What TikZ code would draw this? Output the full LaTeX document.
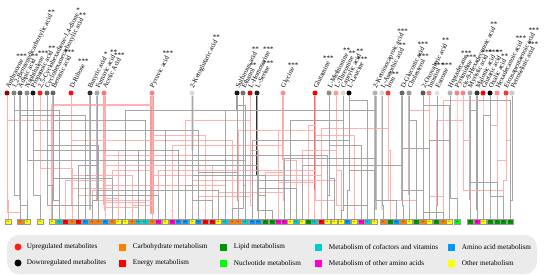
\documentclass[tikz,border=0pt]{standalone}
\usepackage{fontspec}
\setmainfont{Liberation Serif}
\usetikzlibrary{positioning}

% pathway colours (box text = colour name)
\definecolor{Ca}{RGB}{255,127,0}
\definecolor{En}{RGB}{255,0,0}
\definecolor{Li}{RGB}{0,150,0}
\definecolor{Nu}{RGB}{0,255,0}
\definecolor{Co}{RGB}{0,204,204}
\definecolor{Am}{RGB}{0,153,255}
\definecolor{Oa}{RGB}{255,0,204}
\definecolor{Ot}{RGB}{255,255,0}
\definecolor{upc}{RGB}{255,30,20}

\begin{document}
\begin{tikzpicture}[x=1pt, y=-1pt,
  dot/.style={circle, inner sep=0pt, minimum size=5pt},
  mlabel/.style={rotate=63, anchor=west, inner sep=0.3pt, font=\fontsize{6.8}{6.8}\selectfont},
  sig/.style={anchor=south, inner sep=0.5pt, font=\fontsize{7}{7}\selectfont},
  pbox/.style={draw=black!40, line width=0.15pt, minimum width=6pt, minimum height=5pt,
    inner sep=0pt, font=\fontsize{2.2}{2.2}\selectfont},
  uplink/.style={draw=red!30, line width=0.5pt},
  downlink/.style={draw=black!35, line width=0.5pt},
  legtxt/.style={inner sep=0pt, font=\fontsize{7.2}{8}\selectfont},
  legsq/.style={minimum size=7pt, inner sep=0pt},
  legdot/.style={circle, minimum size=7pt, inner sep=0pt}]
  \useasboundingbox (0,0) rectangle (550,276);

  % metabolites
  \foreach \i/\x/\col/\txt/\sig in {
    1/7/red!60!black/Anthracene/***, 2/14/black!50/{1,2-Benzenedicarboxylic acid}/**,
    3/20/black!65/Adipic acid/**, 4/27/black!45/Naphthalene/***, 5/33/black!90/Propanoic acid/**,
    6/40/red!90/{2,5-Cyclohexadiene-1,4-dione}/*, 7/47/black!60/Cyclohexanecarboxylic acid/**,
    8/53/black!60/Benzoic acid/***, 9/71/red!95/D-Ribose/***, 10/90/black!80/Butyric acid/*,
    11/97/black!35/Fumaric acid/**, 12/104/red!55/Acetic Acid/***, 13/152/red!50/Pyruvic acid/***,
    14/192/black!15/2-Ketoglutaric acid/**, 15/237/black!90/Sulfurous acid/**,
    16/243/black!55/Ethanol/**, 17/250/red!90!black/L-Homoserine/***, 18/257/black!85/L-Serine/***,
    19/283/red!45/Glycine/***, 20/315/red/Glutamine/***, 21/329/black!45/L-Methionine/**,
    22/336/red!40/L-Threonine/**, 23/343/black!15/Caprylic acid/**, 24/349/black/L-Leucine/***,
    25/375/black!30/2-Ketoisocaproic acid/***, 26/382/black!15/L-Ascorbic acid/**,
    27/388/red!80/Iron/***, 28/402/black!60/D-Gluconic acid/***, 29/409/black!40/Cholesterol/***,
    30/423/black!65/2-Oxovaleric acid/**, 31/429/red!50/Inositol/***, 32/437/black!12/Estrone/***,
    33/450/black!30/Heptadecane/***, 34/457/red!50/Pyrimidine/***,
    35/463/red!50/cis-9-Hexadecenoic acid/**, 36/470/black!35/Myristic acid/***,
    37/477/black!80/Malonic acid/***, 38/483/red/Glutaric acid/**, 39/490/black/Oxalic acid/**,
    40/497/red!45/Hexadecanoic acid/***, 41/506/red!80/Eicosapentaenoic acid/***,
    42/512/black!20/Petroselinic acid/***} {
    \node[dot, fill=\col] (m\i) at (\x,93) {};
    \node[mlabel] (t\i) at (\x,88) {\txt};
    \node[sig] at (t\i.east) {\sig};
  }

  % pathways
  \foreach \j/\x/\col in {1/8/Ot, 2/20/Ca, 3/27/Ot, 4/40/Ot, 5/52/Ot, 6/59/Co, 7/65/En, 8/72/Ca,
    9/78/En, 10/85/Am, 11/92/Ca, 12/98/Ca, 13/105/Am, 14/112/Ca, 15/118/Ot, 16/125/Ot, 17/132/Ca,
    18/138/Co, 19/145/Co, 20/152/Ca, 21/158/Oa, 22/165/Ot, 23/172/Oa, 24/178/Am, 25/185/Am,
    26/192/Ot, 27/198/Am, 28/205/En, 29/212/En, 30/218/Ot, 31/225/Co, 32/232/Ca, 33/238/Ca,
    34/245/Co, 35/252/Am, 36/258/Am, 37/265/Li, 38/272/Li, 39/278/Oa, 40/284/Oa, 41/290/Ot,
    42/296/Co, 43/302/Ot, 44/308/Li, 45/314/Co, 46/321/En, 47/327/Ot, 48/334/Ot, 49/341/Ot,
    50/347/Am, 51/354/Ot, 52/361/Oa, 53/367/Co, 54/374/Ot, 55/383/Ca, 56/390/Li, 57/396/Am,
    58/403/Ca, 59/409/Ot, 60/416/Li, 61/423/Ca, 62/429/Ot, 63/436/Li, 64/443/Ca, 65/449/Ot,
    66/457/Nu, 67/470/Li, 68/477/Oa, 69/483/Ot, 70/490/Li, 71/497/Li, 72/503/Li, 73/510/Li} {
    \node[pbox, fill=\col] (b\j) at (\x,222) {\col};
  }

  % thick stems
  \foreach \m/\y/\col/\w in {13/214/red!40/3.5pt, 14/150/black!12/3pt, 18/175/black!80/2.5pt,
    12/205/red!35/3pt, 19/160/red!35/2.5pt, 11/200/black!25/2pt, 20/190/red!60/1.5pt,
    25/210/black!25/3pt, 26/210/black!12/2.5pt, 28/200/black!30/2pt, 15/110/black!40/1.5pt,
    3/200/black!25/2pt, 8/200/black!25/2pt, 10/210/black!25/2pt, 29/195/black!25/1.5pt,
    36/200/black!30/1.2pt, 37/210/black!35/1.5pt} {
    \draw[draw=\col, line width=\w] (m\m.south) -- (m\m.south |- 0,\y);
  }
  \draw[uplink, line width=2.5pt] (m13.south) -- (m13.south |- 0,105) -| (b5.north);

  % links
  \foreach \m/\p/\y in {1/1/200, 1/5/120, 6/4/210, 6/15/150, 6/22/160, 9/8/205, 9/17/175,
    9/32/140, 12/13/210, 12/11/190, 12/20/185, 12/29/165, 12/7/180, 13/20/214, 13/9/195,
    13/12/200, 13/28/135, 13/31/185, 13/14/170, 13/46/175, 17/35/205, 17/36/150, 17/25/120,
    19/40/200, 19/39/130, 19/42/160, 19/23/145, 19/13/155, 20/45/190, 20/44/125, 20/51/135,
    20/33/130, 20/21/170, 22/49/170, 22/50/205, 22/26/180, 27/56/150, 27/60/200, 31/62/180,
    31/59/110, 34/66/210, 35/67/140, 35/63/120, 38/69/200, 38/64/100, 40/71/205, 40/70/125,
    41/72/180, 41/73/140, 13/16/190, 13/17/205, 12/15/198, 12/19/202, 9/14/188, 19/30/192,
    19/37/172, 20/48/200, 20/39/182, 17/27/196, 6/8/168, 1/2/212, 27/46/128, 31/64/196,
    41/71/160, 35/72/190, 22/43/150, 12/18/207, 13/24/160} {
    \draw[uplink] (m\m.south) -- (m\m.south |- 0,\y) -| (b\p.north);
  }
  \foreach \m/\p/\y in {2/2/195, 2/6/110, 3/3/205, 3/10/115, 4/3/180, 4/16/160, 5/4/195,
    5/18/150, 5/27/130, 7/5/185, 7/12/145, 8/6/200, 8/19/120, 10/10/175, 10/24/150, 10/34/160,
    11/11/200, 11/9/165, 11/30/190, 14/26/210, 14/22/130, 14/37/175, 14/47/155, 15/33/200,
    15/34/105, 16/34/185, 16/16/110, 18/36/170, 18/38/210, 18/24/165, 18/41/180, 21/47/195,
    21/52/145, 23/49/210, 23/41/120, 24/50/190, 24/53/100, 24/35/140, 25/54/195, 25/57/200,
    25/31/110, 26/55/205, 28/58/205, 28/43/165, 28/61/190, 29/59/195, 29/60/120, 30/61/175,
    30/65/105, 32/63/205, 33/65/185, 33/62/140, 36/67/200, 36/68/110, 37/68/190, 37/73/100,
    39/70/210, 39/69/115, 42/73/200, 14/29/200, 14/25/185, 18/37/195, 18/42/188, 16/32/208,
    10/21/195, 8/14/178, 7/11/205, 21/48/178, 24/54/170, 28/62/148, 30/64/212, 25/40/158,
    15/27/172, 23/53/205, 33/66/198, 36/71/182, 39/72/196} {
    \draw[downlink] (m\m.south) -- (m\m.south |- 0,\y) -| (b\p.north);
  }

  % legend
  \fill[black!8, rounded corners=12pt] (7,235) rectangle (537,274);
  \node[legdot, fill=upc] (lu) at (18,247) {};
  \node[legtxt, right=5pt of lu] {Upregulated metabolites};
  \node[legdot, fill=black] (ld) at (18,263) {};
  \node[legtxt, right=5pt of ld] {Downregulated metabolites};
  \foreach \k/\x/\y/\col/\txt in {ca/122/247/Ca/Carbohydrate metabolism,
    en/122/263/En/Energy metabolism, li/223/247/Li/Lipid metabolism,
    nu/223/263/Nu/Nucleotide metabolism, co/318/247/Co/Metabolism of cofactors and vitamins,
    oa/318/263/Oa/Metabolism of other amino acids, am/451/247/Am/Amino acid metabolism,
    ot/451/263/Ot/Other metabolism} {
    \node[legsq, fill=\col] (l\k) at (\x,\y) {};
    \node[legtxt, right=7pt of l\k] {\txt};
  }
\end{tikzpicture}
\end{document}
